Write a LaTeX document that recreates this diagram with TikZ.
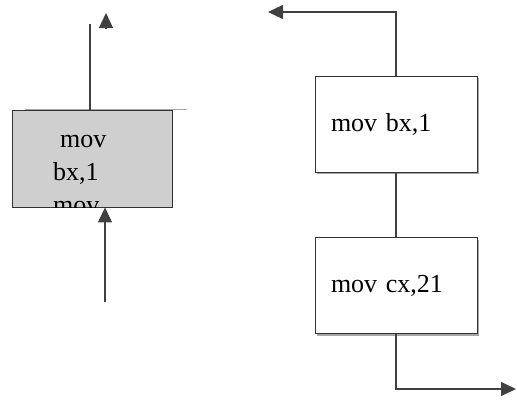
\documentclass[tikz,border=0pt]{standalone}
\usepackage{fontspec}
\setmainfont{Liberation Serif}
\usetikzlibrary{arrows.meta,shadows}

\tikzset{
  block/.style={draw=black!80, line width=0.8pt, fill=white, minimum width=162pt, minimum height=96pt,
    text width=130pt, align=left, inner sep=0pt, font=\fontsize{26}{33}\selectfont,
    drop shadow={shadow xshift=2pt, shadow yshift=-2pt, fill=black!35, opacity=1}},
  greybox/.style={draw=black!80, line width=0.8pt, fill=black!19, minimum width=160pt, minimum height=97pt, inner sep=0pt},
  boxtext/.style={anchor=base west, inner sep=0pt, font=\fontsize{26}{33}\selectfont},
  flow/.style={draw=black!75, line width=1.2pt},
  tip/.style={-{Triangle[length=15pt,width=14pt]}}
}

\begin{document}
\begin{tikzpicture}[x=1pt,y=-1pt]
\useasboundingbox (0,0) rectangle (517,407);

% left block
\node[greybox] (g) at (92,158.5) {};
\begin{scope}
\clip (g.south west) rectangle (g.north east);
\node[boxtext] (g1) at (60,147) {mov};
\node[boxtext] (g2) at (53,180) {bx,1};
\node[boxtext] (g3) at (53,213) {mov};
\end{scope}
\draw[black!35, line width=0.6pt] (25,109) -- (187,109);

\coordinate (upend) at (90,24);
\draw[flow] (upend |- g.north) -- (upend);
\coordinate (headbase) at (106,28);
\coordinate (headtip) at (106,13);
\draw[flow,tip] (headbase) -- (headtip);
\coordinate (inL) at (105,302);
\draw[flow,tip] (inL) -- (inL |- g.south);

% right blocks
\node[block] (b1) at (396,124) {mov bx,1};
\node[block] (b2) at (396,285.5) {mov cx,21};

\coordinate (outL) at (268,12);
\coordinate (outR) at (516,389);
\draw[flow,tip] (b1.north) |- (outL);
\draw[flow] (b1.south) -- (b2.north);
\draw[flow,tip] (b2.south) |- (outR);
\end{tikzpicture}
\end{document}
